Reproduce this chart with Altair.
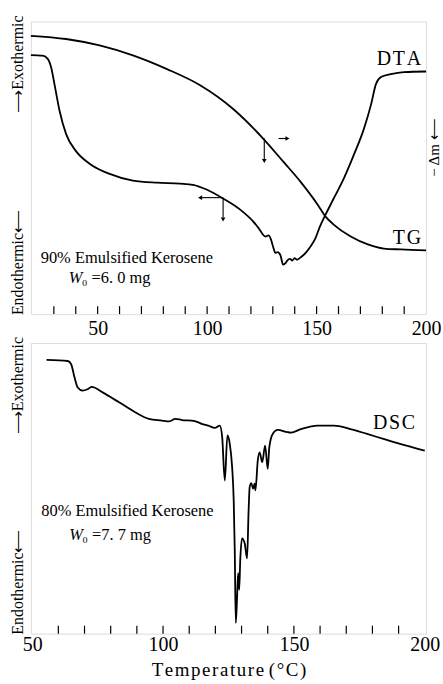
import altair as alt
import pandas as pd

FONT = "Liberation Serif"
HS = "\u200a"  # hair space (letter spacing)

# ---------------- top panel: TG and DTA ----------------
tg_temp = [19.5, 35.6, 50.9, 66.1, 81.7, 96.8, 111.9, 125.7, 134.9, 142.7, 150.5,
           154.1, 157.8, 165.6, 173.4, 180.7, 188.5, 200.0]
tg_val = [95.1, 94.0, 91.8, 88.4, 83.7, 78.2, 70.1, 59.9, 52.0, 45.2, 37.4,
          33.3, 30.6, 26.5, 23.8, 22.4, 22.1, 21.8]

dta_temp = [19.5, 24.9, 27.2, 28.8, 30.3, 32.6, 35.6, 40.2, 46.3, 55.5, 66.1, 77.1,
            87.6, 93.6, 100.0, 107.3, 115.1, 121.1, 123.5, 126.6, 128.1, 129.2, 130.1,
            131.2, 132.2, 133.5, 134.7, 135.8, 136.6, 137.8, 138.9, 139.9, 141.2, 142.7,
            145.0, 147.2, 149.5, 151.5, 154.1, 157.8, 162.4, 167.0, 171.6, 174.8, 177.1,
            179.4, 183.9, 189.9, 200.0]
dta_val = [88.5, 88.3, 87.2, 84.2, 78.5, 69.5, 61.5, 55.6, 51.4, 47.9, 45.6, 44.9,
           44.6, 44.2, 42.5, 39.5, 35.7, 31.6, 29.4, 26.5, 26.9, 25.4, 23.1,
           20.9, 21.2, 20.1, 16.9, 17.4, 18.3, 18.9, 18.3, 19.1, 18.6, 19.4,
           20.9, 23.1, 26.0, 29.9, 34.0, 39.5, 46.3, 54.4, 63.3, 71.4, 78.6,
           81.0, 82.0, 82.7, 82.9]

top_minor_ticks = [30, 40, 50, 60, 70, 80, 90, 100, 110, 120, 130, 140, 150, 160, 170, 180, 190]
top_tick_labels = [50, 100, 150, 200]

# axis-indicator arrows on the top panel (shaft segments and heads)
arrow_t1 = [126.1, 132.6, 107.3, 107.3]
arrow_v1 = [60.0, 60.0, 39.8, 39.8]
arrow_t2 = [126.1, 136.0, 97.5, 107.3]
arrow_v2 = [53.0, 60.0, 39.8, 33.0]
head_t = [126.1, 136.7, 96.8, 107.3]
head_v = [52.3, 60.0, 39.8, 32.3]
head_shape = ["triangle-down", "triangle-right", "triangle-left", "triangle-down"]

top_label_text = [HS.join("DTA"), HS.join("TG")]
top_label_t = [197.7, 197.7]
top_label_v = [87.2, 26.0]

top_note_text = ["90% Emulsified Kerosene"]
top_note_t = [24.0]
top_note_v = [19.2]
top_w_t = [36.8]
top_w_v = [12.2]
top_w_rest = ["\u2080 =6. 0 mg"]

# ---------------- bottom panel: DSC ----------------
dsc_temp = [55.5, 63.6, 64.9, 66.2, 67.4, 69.3, 71.2, 72.8, 76.9, 83.2, 89.5, 94.6,
            99.6, 102.2, 104.7, 107.2, 111.0, 113.5, 114.8, 117.3, 119.8, 121.7,
            122.6, 123.6, 124.6, 125.5, 126.4, 127.0, 127.4, 127.8, 128.3, 128.7,
            129.1, 129.5, 130.2, 131.2, 132.1, 132.7, 133.1, 133.7, 134.4, 135.0,
            135.3, 136.2, 136.9, 137.9, 139.0, 140.0, 140.6, 141.9, 143.8, 147.6,
            148.9, 152.7, 159.0, 165.3, 171.6, 178.0, 184.2, 190.5, 200.0]
dsc_val = [94.2, 93.8, 92.7, 88.1, 84.7, 83.6, 84.1, 84.9, 83.0, 79.6, 76.1, 73.9,
           73.3, 73.0, 73.9, 73.5, 73.3, 72.7, 72.2, 71.6, 70.8, 71.6,
           67.6, 52.7, 68.2, 65.3, 57.3, 45.9, 28.8, 3.7, 12.8, 20.8,
           15.1, 25.3, 32.8, 31.1, 25.9, 42.5, 50.4, 51.8, 49.9, 51.6,
           49.3, 59.6, 62.4, 59.0, 64.7, 56.7, 64.1, 68.7, 70.1, 69.3,
           69.2, 70.4, 71.6, 71.6, 70.4, 68.7, 67.0, 65.3, 63.0]

bot_minor_ticks = [60, 70, 80, 90, 100, 110, 120, 130, 140, 150, 160, 170, 180, 190]
bot_tick_labels = [50, 100, 150, 200]

bot_label_text = [HS.join("DSC")]
bot_label_t = [196.3]
bot_label_v = [72.4]
bot_note_text = ["80% Emulsified Kerosene"]
bot_note_t = [53.5]
bot_note_v = [42.3]
bot_w_t = [64.2]
bot_w_v = [33.9]
bot_w_rest = ["\u2080 =7. 7 mg"]

x_title = HS.join("Temperature") + " " + HS.join("(°C)")

W_TOP, H_TOP = 397, 294
W_BOT, H_BOT = 397, 292
LW = 1.8


def panel(curves, tdom, ticks, tlabels, w, h, labels, note, wpos, wrest,
          xtitle=None, label_pad=4, extra=None):
    xax = alt.Axis(values=tlabels, ticks=False, domain=False, grid=False,
                   labelFont=FONT, labelFontSize=20, labelColor="black",
                   labelPadding=label_pad, labelFlush=False,
                   title=xtitle, titleFont=FONT, titleFontSize=19,
                   titleFontWeight="normal", titleColor="black", titlePadding=6)
    xs = alt.Scale(domain=tdom, nice=False, zero=False)
    ys = alt.Scale(domain=[0, 100], nice=False, zero=False)
    X = alt.X("T:Q", scale=xs, axis=xax)
    Y = alt.Y("v:Q", scale=ys, axis=None)
    layers = []
    for (tt, vv) in curves:
        layers.append(alt.Chart(pd.DataFrame({"T": tt, "v": vv})).mark_line(
            color="black", strokeWidth=LW, interpolate="monotone").encode(x=X, y=Y))
    layers.append(alt.Chart(pd.DataFrame({"T": ticks})).mark_rule(
        color="black", strokeWidth=1.2).encode(x=X, y=alt.value(h), y2=alt.value(h - 8)))
    lt, lv, ltxt = labels
    layers.append(alt.Chart(pd.DataFrame({"T": lt, "v": lv, "s": ltxt})).mark_text(
        align="right", baseline="middle", font=FONT, fontSize=20, color="black"
    ).encode(x=X, y=Y, text="s:N"))
    nt, nv, ntxt = note
    layers.append(alt.Chart(pd.DataFrame({"T": nt, "v": nv, "s": ntxt})).mark_text(
        align="left", baseline="middle", font=FONT, fontSize=16.5, color="black"
    ).encode(x=X, y=Y, text="s:N"))
    wt, wv = wpos
    layers.append(alt.Chart(pd.DataFrame({"T": wt, "v": wv, "s": ["W"]})).mark_text(
        align="left", baseline="middle", font=FONT, fontSize=16.5, fontStyle="italic",
        color="black").encode(x=X, y=Y, text="s:N"))
    layers.append(alt.Chart(pd.DataFrame({"T": wt, "v": wv, "s": wrest})).mark_text(
        align="left", baseline="middle", font=FONT, fontSize=16.5, dx=13, color="black"
    ).encode(x=X, y=Y, text="s:N"))
    # rotated side labels
    layers.append(alt.Chart(pd.DataFrame({"s": ["\u27f6Exothermic"]})).mark_text(
        angle=270, align="right", baseline="middle", font=FONT, fontSize=16, color="black"
    ).encode(x=alt.value(-13), y=alt.value(-6), text="s:N"))
    layers.append(alt.Chart(pd.DataFrame({"s": ["Endothermic\u27f5"]})).mark_text(
        angle=270, align="left", baseline="middle", font=FONT, fontSize=16, color="black"
    ).encode(x=alt.value(-13), y=alt.value(h + 1), text="s:N"))
    if extra is not None:
        layers.extend(extra(X, Y))
    return alt.layer(*layers).properties(width=w, height=h)


def top_extra(X, Y):
    segs = pd.DataFrame({"T": arrow_t1, "v": arrow_v1, "T2": arrow_t2, "v2": arrow_v2})
    heads = pd.DataFrame({"T": head_t, "v": head_v, "shape": head_shape})
    return [
        alt.Chart(segs).mark_rule(color="black", strokeWidth=1.1).encode(
            x=X, y=Y, x2="T2:Q", y2="v2:Q"),
        alt.Chart(heads).mark_point(filled=True, color="black", size=22, opacity=1).encode(
            x=X, y=Y, shape=alt.Shape("shape:N", scale=None)),
        alt.Chart(pd.DataFrame({"s": ["\u2212 \u0394m \u27f5"]})).mark_text(
            angle=270, align="left", baseline="middle", font=FONT, fontSize=15,
            color="black").encode(x=alt.value(W_TOP + 8), y=alt.value(156), text="s:N"),
    ]


top = panel([(tg_temp, tg_val), (dta_temp, dta_val)], [19.5, 200], top_minor_ticks,
            top_tick_labels, W_TOP, H_TOP,
            (top_label_t, top_label_v, top_label_text),
            (top_note_t, top_note_v, top_note_text),
            (top_w_t, top_w_v), top_w_rest, label_pad=4, extra=top_extra)

bottom = panel([(dsc_temp, dsc_val)], [49.5, 200.5], bot_minor_ticks,
               bot_tick_labels, W_BOT, H_BOT,
               (bot_label_t, bot_label_v, bot_label_text),
               (bot_note_t, bot_note_v, bot_note_text),
               (bot_w_t, bot_w_v), bot_w_rest, xtitle=x_title, label_pad=1)

chart = alt.vconcat(top, bottom, spacing=29, bounds="flush").properties(
    padding={"left": 9, "top": 13, "right": 0, "bottom": 0}
).configure_view(stroke="black", strokeWidth=1.5).configure(background="white")

chart.save("out.html", embed_options={"renderer": "svg", "actions": False})
